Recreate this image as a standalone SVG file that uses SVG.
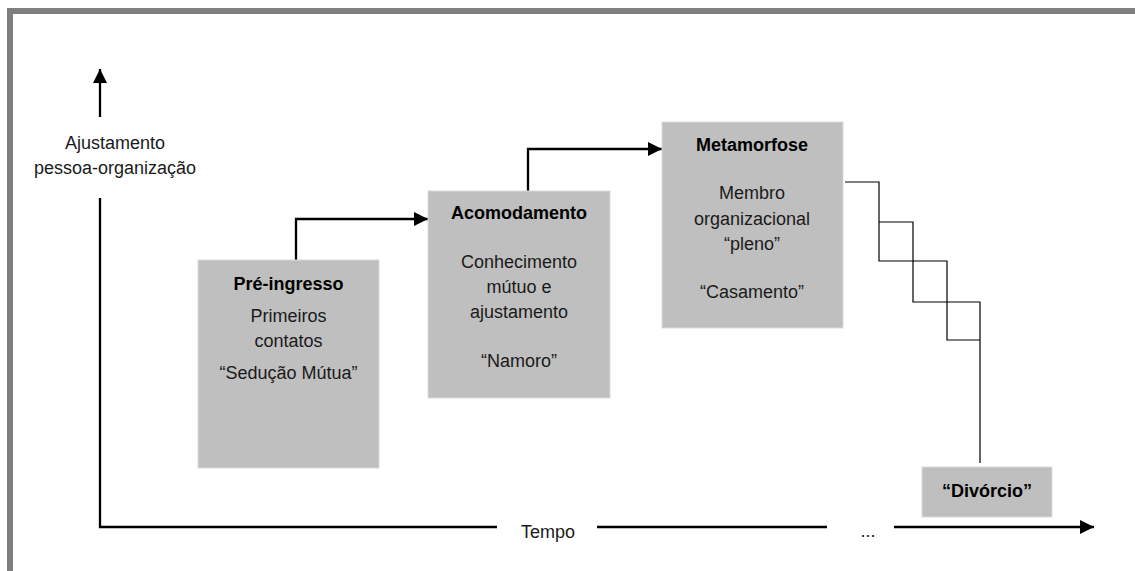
<svg xmlns="http://www.w3.org/2000/svg" width="1135" height="571" viewBox="0 0 1135 571">
<style>
text{font-family:"Liberation Sans",Arial,sans-serif;font-size:18px;fill:#1a1a1a;text-anchor:middle}
.b{font-weight:bold;fill:#000}
.box{fill:#bfbfbf;stroke:#d9d9d9;stroke-width:1}
.thick{fill:none;stroke:#000;stroke-width:2.3}
.thin{fill:none;stroke:#000;stroke-width:1.2}
</style>
<defs>
<marker id="ah" viewBox="0 0 14 14" refX="14" refY="7" markerWidth="14" markerHeight="14" markerUnits="userSpaceOnUse" orient="auto">
<path d="M0,0 L14,7 L0,14 Z" fill="#000"/>
</marker>
</defs>
<rect width="1135" height="571" fill="#fff"/>
<path d="M10,571 V11 H1140" fill="none" stroke="#7f7f7f" stroke-width="6"/>
<g id="axis-y">
<line class="thick" x1="100" y1="117" x2="100" y2="69" marker-end="url(#ah)"/>
<text x="115" y="149">Ajustamento</text>
<text x="115" y="174">pessoa-organização</text>
</g>
<g id="axis-x">
<path class="thick" d="M100,198 V527 H497"/>
<text x="548" y="538">Tempo</text>
<line class="thick" x1="597" y1="527" x2="827" y2="527"/>
<text x="868" y="537">...</text>
<line class="thick" x1="894" y1="527" x2="1094" y2="527" marker-end="url(#ah)"/>
</g>
<g id="connectors">
<path class="thick" d="M296,260 V219 H428" marker-end="url(#ah)"/>
<path class="thick" d="M528,191 V149 H662" marker-end="url(#ah)"/>
<path class="thin" d="M845,182 H879 V261 H947 V340 H980"/>
<path class="thin" d="M879,222 H913 V302 H980 V463"/>
</g>
<g id="pre-ingresso">
<rect class="box" x="198" y="260" width="181" height="208"/>
<text class="b" x="288.5" y="290">Pré-ingresso</text>
<text x="288.5" y="322">Primeiros</text>
<text x="288.5" y="347">contatos</text>
<text x="288.5" y="379">“Sedução Mútua”</text>
</g>
<g id="acomodamento">
<rect class="box" x="428" y="191" width="182" height="207"/>
<text class="b" x="519" y="219">Acomodamento</text>
<text x="519" y="268">Conhecimento</text>
<text x="519" y="293">mútuo e</text>
<text x="519" y="318">ajustamento</text>
<text x="519" y="367">“Namoro”</text>
</g>
<g id="metamorfose">
<rect class="box" x="662" y="122" width="181" height="206"/>
<text class="b" x="752" y="151">Metamorfose</text>
<text x="752" y="199">Membro</text>
<text x="752" y="225">organizacional</text>
<text x="752" y="250">“pleno”</text>
<text x="752" y="298">“Casamento”</text>
</g>
<g id="divorcio">
<rect class="box" x="922" y="467" width="130" height="50"/>
<text class="b" x="987" y="497">“Divórcio”</text>
</g>
</svg>
